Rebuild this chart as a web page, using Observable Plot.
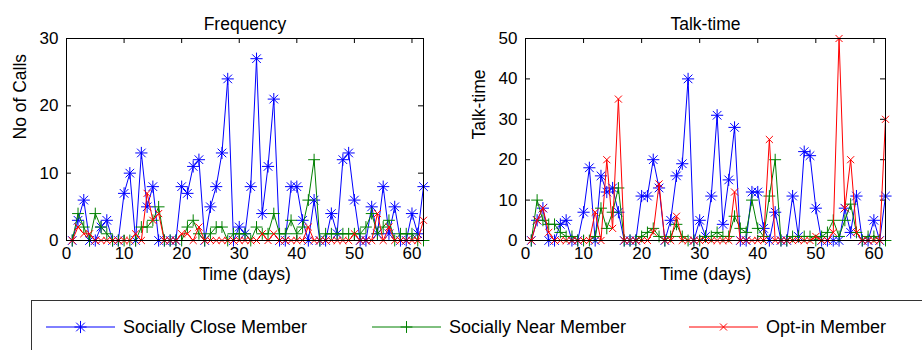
<!DOCTYPE html>
<html>
<head>
<meta charset="utf-8">
<script src="https://cdn.jsdelivr.net/npm/d3@7"></script>
<script src="https://cdn.jsdelivr.net/npm/@observablehq/plot@0.6"></script>
<style>
  html, body { margin: 0; padding: 0; background: #fff; }
  body { width: 922px; height: 350px; overflow: hidden; position: relative;
         font-family: "Liberation Sans", Arial, Helvetica, sans-serif; }
  #charts { position: absolute; left: 0; top: 0; display: flex; }
  #legend { position: absolute; left: 0; top: 0; }
</style>
</head>
<body>
<div id="charts"></div>
<svg id="legend" width="922" height="350"></svg>
<script>
// Days of the observation period
const days = d3.range(1, 63);

// Number of calls per day
const callsClose = [0,3,6,0,0,2,3,0,0,7, 10,0,13,5,8,0,0,0,0,8, 7,11,12,0,5,8,13,24,0,2,
                    1,8,27,4,11,21,0,0,8,8, 3,0,6,0,0,4,1,12,13,6, 0,0,5,1,8,1,5,0,0,4, 1,8];
const callsNear  = [0,4,2,0,4,2,1,0,0,0, 0,0,2,2,3,5,0,0,0,0, 2,3,1,0,1,2,2,0,1,1,
                    1,0,2,1,1,4,1,1,3,1, 2,6,12,0,1,1,1,1,1,1, 1,2,4,1,2,3,0,1,1,1, 0,0];
const callsOptin = [0,2,1,1,0,0,0,0,0,0, 0,1,0,7,3,4,0,0,0,1, 1,0,2,0,0,0,0,0,0,0,
                    0,0,0,1,0,1,0,0,0,0, 0,2,0,0,0,0,0,0,0,1, 0,0,0,4,0,2,0,0,0,0, 0,3];

// Talk-time per day
const talkClose = [0,5,8,0,0,4,5,0,0,7, 18,0,16,12,13,7,0,0,0,11, 11,20,13,0,5,16,19,40,0,5,
                   1,11,31,4,15,28,0,0,12,12, 3,0,7,0,0,11,1,22,21,8, 0,0,0,0,8,2,11,0,0,5, 0,11];
const talkNear  = [0,10,5,4,4,2,1,1,0,0, 0,1,8,3,7,13,0,0,0,1, 2,3,1,0,1,4,1,0,0,0,
                   1,1,2,1,1,6,3,2,10,3, 1,11,20,0,0,1,1,1,1,0, 1,2,5,1,5,9,2,0,1,1, 0,0];
const talkOptin = [0,5,8,2,0,0,0,0,0,0, 0,7,0,20,3,35,0,0,0,0, 0,2,14,0,0,6,0,0,0,0,
                   0,0,0,0,0,12,0,0,0,0, 0,25,0,0,0,0,0,0,0,1, 0,0,2,50,8,20,2,0,0,0, 0,30];

// Axis ticks
const xTicks = [0, 10, 20, 30, 40, 50, 60];
const callTicks = [0, 10, 20, 30];
const talkTicks = [0, 10, 20, 30, 40, 50];
const xDomain = [0, 62];

// Series styles (line colour and marker)
const BLUE = "#0000ff", GREEN = "#008000", RED = "#ff0000";
const seriesNames = ["Socially Close Member", "Socially Near Member", "Opt-in Member"];
const markerSets = [
  [{symbol: "plus", r: 4}, {symbol: "times", r: 4}],   // star
  [{symbol: "plus", r: 3.9}],
  [{symbol: "times", r: 3.3}]
];
const colors = [BLUE, GREEN, RED];

const FONT = "'Liberation Sans', Arial, Helvetica, sans-serif";

function panel({title, ylabel, yDomain, yTicks, width, marginLeft, marginRight, values}) {
  const height = 298, marginTop = 38, marginBottom = 58;
  const innerW = width - marginLeft - marginRight;
  const innerH = height - marginTop - marginBottom;
  const tickPx = 5;
  const tx = (xDomain[1] - xDomain[0]) * tickPx / innerW;
  const ty = (yDomain[1] - yDomain[0]) * tickPx / innerH;
  const marks = [
    // inward ticks on all four sides
    Plot.ruleX(xTicks, {x: d => d, y1: yDomain[0], y2: yDomain[0] + ty, stroke: "#000"}),
    Plot.ruleX(xTicks, {x: d => d, y1: yDomain[1], y2: yDomain[1] - ty, stroke: "#000"}),
    Plot.ruleY(yTicks, {y: d => d, x1: xDomain[0], x2: xDomain[0] + tx, stroke: "#000"}),
    Plot.ruleY(yTicks, {y: d => d, x1: xDomain[1], x2: xDomain[1] - tx, stroke: "#000"}),
    Plot.axisX(xTicks, {tickSize: 0, tickPadding: 6, fontSize: 17, label: null}),
    Plot.axisY(yTicks, {tickSize: 0, tickPadding: 8, fontSize: 17, label: null}),
    Plot.text([title], {text: d => d, frameAnchor: "top", dy: -21, fontSize: 17.5}),
    Plot.text(["Time (days)"], {text: d => d, frameAnchor: "bottom", dy: 39, fontSize: 17.5}),
    Plot.text([ylabel], {text: d => d, frameAnchor: "left", dx: -46, rotate: -90, fontSize: 17.5})
  ];
  values.forEach((vals, k) => {
    const rows = days.map((d, i) => ({day: d, v: vals[i]}));
    marks.push(Plot.line(rows, {x: "day", y: "v", stroke: colors[k], strokeWidth: 1}));
    for (const m of markerSets[k]) {
      marks.push(Plot.dot(rows, {x: "day", y: "v", symbol: m.symbol, r: m.r, stroke: colors[k], strokeWidth: 1}));
    }
  });
  marks.push(Plot.frame({stroke: "#000", strokeWidth: 1}));
  return Plot.plot({
    width, height, marginTop, marginRight, marginBottom, marginLeft,
    x: {domain: xDomain},
    y: {domain: yDomain},
    style: {background: "#fff", color: "#000", fontFamily: FONT, overflow: "visible"},
    marks
  });
}

const charts = document.getElementById("charts");
charts.append(panel({
  title: "Frequency", ylabel: "No of Calls", yDomain: [0, 30], yTicks: callTicks,
  width: 460, marginLeft: 66, marginRight: 37,
  values: [callsClose, callsNear, callsOptin]
}));
charts.append(panel({
  title: "Talk-time", ylabel: "Talk-time", yDomain: [0, 50], yTicks: talkTicks,
  width: 462, marginLeft: 65, marginRight: 37,
  values: [talkClose, talkNear, talkOptin]
}));

// Legend box beneath both panels
const legend = d3.select("#legend");
legend.append("rect")
  .attr("x", 31.5).attr("y", 300.5).attr("width", 960).attr("height", 80)
  .attr("fill", "none").attr("stroke", "#333").attr("stroke-width", 1);
const legendX = [46, 372, 689];
seriesNames.forEach((name, k) => {
  const g = legend.append("g").attr("transform", `translate(${legendX[k]},327)`);
  g.append("line").attr("x1", 0).attr("x2", 69).attr("y1", 0).attr("y2", 0)
    .attr("stroke", colors[k]).attr("stroke-width", 1);
  for (const m of markerSets[k]) {
    const sym = m.symbol === "plus" ? d3.symbolPlus : d3.symbolTimes;
    g.append("path").attr("transform", "translate(34.5,0)")
      .attr("d", d3.symbol(sym, Math.PI * m.r * m.r)())
      .attr("fill", "none").attr("stroke", colors[k]).attr("stroke-width", 1);
  }
  g.append("text").attr("x", 77).attr("y", 0).attr("dy", "0.35em")
    .attr("font-family", FONT).attr("font-size", 18).attr("fill", "#000")
    .text(name);
});
</script>
</body>
</html>
